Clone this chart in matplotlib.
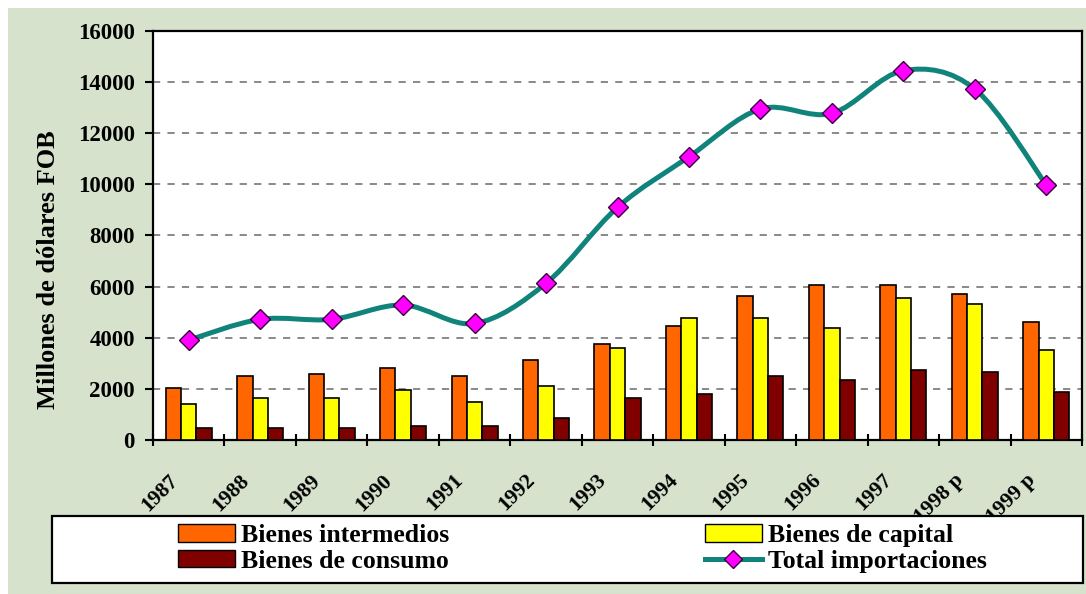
import numpy as np
import matplotlib
matplotlib.use("Agg")
from matplotlib import pyplot as plt
from matplotlib.patches import Rectangle, PathPatch, Patch
from matplotlib.path import Path
from matplotlib.lines import Line2D
from matplotlib.transforms import ScaledTranslation

years = ["1987", "1988", "1989", "1990", "1991", "1992", "1993", "1994",
         "1995", "1996", "1997", "1998 p", "1999 p"]
intermedios = [2050, 2500, 2600, 2830, 2520, 3140, 3750, 4470, 5650, 6050, 6050, 5720, 4630]
capital = [1400, 1640, 1640, 1960, 1500, 2120, 3600, 4790, 4790, 4400, 5570, 5330, 3530]
consumo = [470, 470, 470, 560, 560, 870, 1660, 1810, 2520, 2360, 2750, 2670, 1890]
total = [3910, 4720, 4720, 5280, 4560, 6130, 9100, 11080, 12950, 12780, 14450, 13730, 9980]

plt.rcParams['font.family'] = ['Liberation Serif', 'DejaVu Serif']
plt.rcParams['font.weight'] = 'bold'

GREEN = '#d6e2cc'
TEAL = '#10837b'

fig = plt.figure(figsize=(10.86, 5.94), dpi=100, facecolor='white')
# green background, leaving a thin white strip on top and left
fig.patches.append(Rectangle((8/1086, 0), 1, 1 - 8/594, transform=fig.transFigure,
                             facecolor=GREEN, edgecolor='none', zorder=-10))

ax = fig.add_axes([153/1086, 1 - 440/594, 929/1086, 409/594])
ax.set_facecolor('white')

x = np.arange(len(years))
w = 0.215
ax.bar(x - w, intermedios, w, color='#ff6600', edgecolor='black', linewidth=1.2, zorder=3)
ax.bar(x, capital, w, color='#ffff00', edgecolor='black', linewidth=1.2, zorder=3)
ax.bar(x + w, consumo, w, color='#800000', edgecolor='black', linewidth=1.2, zorder=3)

# smoothed line like excel (catmull-rom -> bezier)
pts = np.column_stack([x, total]).astype(float)
ext = np.vstack([pts[0], pts, pts[-1]])
verts = [tuple(pts[0])]
codes = [Path.MOVETO]
for i in range(len(pts) - 1):
    p0, p1, p2, p3 = ext[i], ext[i+1], ext[i+2], ext[i+3]
    c1 = p1 + (p2 - p0) / 6
    c2 = p2 - (p3 - p1) / 6
    verts += [tuple(c1), tuple(c2), tuple(p2)]
    codes += [Path.CURVE4] * 3
ax.add_patch(PathPatch(Path(verts, codes), facecolor='none', edgecolor=TEAL,
                       linewidth=3.6, zorder=4, capstyle='round'))
ax.plot(x, total, linestyle='none', marker='D', markersize=10.5,
        markerfacecolor='#ff00ff', markeredgecolor='#3a0040', markeredgewidth=1, zorder=5)

ax.set_xlim(-0.5, len(years) - 0.5)
ax.set_ylim(0, 16000)
ax.set_yticks(np.arange(0, 16001, 2000))
ax.set_xticks(x)
ax.set_xticks(np.arange(-0.5, len(years), 1), minor=True)
ax.set_xticklabels(years, fontsize=15.5, rotation=45, ha='right', va='center',
                   rotation_mode='anchor')
ax.tick_params(axis='x', which='major', length=0, pad=27)
ax.tick_params(axis='x', which='minor', length=9, width=1.5, direction='inout')
ax.tick_params(axis='y', length=6, width=1.5, direction='out', pad=7, labelsize=16.5)
for lbl in ax.get_xticklabels():
    lbl.set_transform(lbl.get_transform() + ScaledTranslation(-14/100, 0, fig.dpi_scale_trans))

for v in range(2000, 16000, 2000):
    ax.axhline(v, color='#808080', linewidth=1.3, linestyle=(0, (4, 4)), zorder=1)

for s in ax.spines.values():
    s.set_linewidth(1.6)
    s.set_color('black')

ax.set_ylabel("Millones de dólares FOB", fontsize=19, fontweight='bold')
ax.yaxis.set_label_coords(-0.1, 0.416)

# legend box
fig.patches.append(Rectangle((52/1086, 1 - 583/594), 1031/1086, 67/594, transform=fig.transFigure,
                             facecolor='white', edgecolor='black', linewidth=1.6, zorder=1))

h_int = Patch(facecolor='#ff6600', edgecolor='black')
h_con = Patch(facecolor='#800000', edgecolor='black')
h_cap = Patch(facecolor='#ffff00', edgecolor='black')
h_tot = Line2D([], [], color=TEAL, linewidth=3.6, marker='D', markersize=9,
               markerfacecolor='#ff00ff', markeredgecolor='#3a0040')

leg_kw = dict(loc='upper left', frameon=False, fontsize=18.5, handlelength=2.2,
              handleheight=0.65, handletextpad=0.25, labelspacing=0.1,
              borderpad=0, borderaxespad=0)
fig.legend([h_int, h_con], ["Bienes intermedios", "Bienes de consumo"],
           bbox_to_anchor=(178/1086, 1 - 524/594), **leg_kw)
fig.legend([h_cap, h_tot], ["Bienes de capital", "Total importaciones"],
           bbox_to_anchor=(705/1086, 1 - 524/594), **leg_kw)

fig.savefig("out.png", dpi=100)
